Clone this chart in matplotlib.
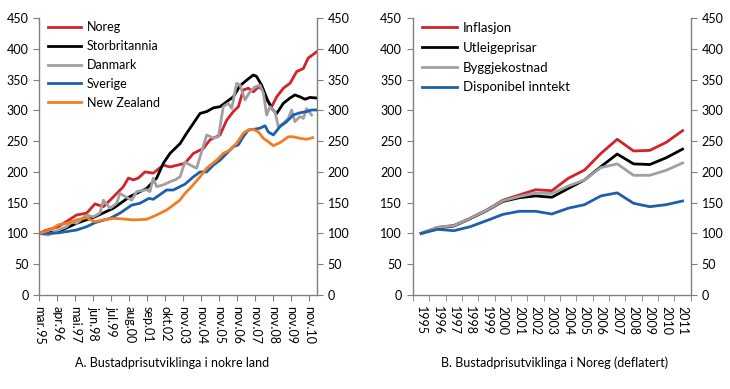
import matplotlib.pyplot as plt
from matplotlib.ticker import MultipleLocator, FixedLocator

plt.rcParams['font.family'] = ['Lato', 'DejaVu Sans']

# --- Figur A: bustadprisar i nokre land (x i tick-einingar) ---
land_ticks = ['mar.95', 'apr.96', 'mai.97', 'jun.98', 'jul.99', 'aug.00', 'sep.01',
              'okt.02', 'nov.03', 'nov.04', 'nov.05', 'nov.06', 'nov.07', 'nov.08',
              'nov.09', 'nov.10']

noreg_x = [0, 0.31, 1.05, 2.06, 2.62, 3.08, 3.55, 3.92, 4.29, 4.66, 4.94, 5.21, 5.49,
           5.86, 6.32, 6.88, 7.25, 7.81, 8.08, 8.55, 9.10, 9.47, 10.03, 10.40, 10.77,
           11.05, 11.32, 11.60, 11.88, 12.16, 12.44, 12.62, 12.90, 13.18, 13.55, 13.92,
           14.29, 14.66, 14.93, 15.40]
noreg = [100, 104.5, 111, 130, 133, 148, 143.5, 154, 165, 176, 190, 187, 190,
         200, 198, 211, 208, 212, 214, 230, 238, 252, 260, 284, 298,
         306, 333, 336, 330, 338, 333, 317, 306, 322, 336, 344,
         363, 368, 385, 395]

storbr_x = [0, 1.05, 2.06, 3.08, 4.11, 5.03, 5.95, 6.51, 6.88, 7.25, 7.81, 8.18, 8.55,
            8.92, 9.29, 9.66, 10.03, 10.40, 10.77, 11.14, 11.51, 11.88, 12.06, 12.34,
            12.62, 12.90, 13.18, 13.55, 13.92, 14.19, 14.47, 14.75, 15.03, 15.40]
storbr = [100, 103, 116.5, 127, 141, 160, 173, 190, 214, 230, 246, 263, 279,
          295, 298, 304, 306, 314, 322, 340, 349, 357.5, 355, 341,
          320, 303, 295, 311.5, 320, 325, 322, 318, 321, 320]

danmark_x = [0, 0.49, 1.05, 1.51, 1.79, 2.06, 2.62, 2.99, 3.36, 3.55, 3.92, 4.29, 4.47,
             5.12, 5.40, 5.95, 6.14, 6.32, 6.51, 6.88, 7.25, 7.53, 7.81, 8.08, 8.45,
             8.73, 9.29, 9.66, 9.94, 10.21, 10.49, 10.68, 10.95, 11.14, 11.42, 11.69,
             11.97, 12.25, 12.44, 12.62, 12.81, 13.08, 13.27, 13.55, 13.82, 14.01,
             14.19, 14.47, 14.66, 14.84, 15.12]
danmark = [100, 97.5, 105.6, 111, 119, 116.5, 130, 127, 133, 154, 141, 149, 165,
           154, 168, 171, 168, 190, 176, 179, 184, 187, 192, 216, 210,
           206, 260, 255, 257, 306, 311.5, 303, 344, 341, 317, 330,
           338, 341, 328, 292.5, 306, 298, 273.5, 279, 287, 300.6,
           281.6, 290, 287, 303, 292.5]

sverige_x = [0, 0.58, 1.05, 2.06, 2.62, 3.08, 3.92, 4.47, 5.12, 5.58, 6.08, 6.32, 7.06,
             7.43, 8.08, 8.55, 8.92, 9.29, 9.66, 10.03, 10.40, 10.77, 11.05, 11.32,
             11.60, 11.88, 12.25, 12.53, 12.71, 12.99, 13.36, 13.73, 14.10, 14.47,
             14.84, 15.12, 15.40]
sverige = [100, 100, 101, 105.6, 111, 117.5, 124.6, 133, 146, 149, 157, 155.5, 170.6,
           170.6, 180, 192, 200, 200, 211, 219, 230, 241, 244, 257,
           268, 269, 271, 275, 265, 260, 273.5, 281.6, 292.5, 296,
           298, 300.6, 300.6]

nz_x = [0, 0.58, 1.05, 1.51, 2.06, 2.62, 3.08, 3.55, 4.11, 4.66, 5.21, 5.95, 6.51,
        7.06, 7.43, 7.81, 8.08, 8.45, 8.92, 9.29, 9.84, 10.21, 10.58, 10.95, 11.32,
        11.60, 11.88, 12.16, 12.44, 12.71, 12.99, 13.36, 13.82, 14.10, 14.47, 14.84,
        15.18]
nz = [100, 105.6, 114, 116.5, 122, 125.6, 119, 122, 124.6, 123.5, 122, 123, 130,
      138, 146, 154.4, 165, 176, 192, 206, 219, 230, 235.6, 246.5, 262.7,
      268, 269, 265, 254.6, 249, 242.6, 247.5, 257, 257, 254.6, 253,
      255.6]

# --- Figur B: Noreg, deflatert ---
aar = ['1995', '1996', '1997', '1998', '1999', '2000', '2001', '2002', '2003',
       '2004', '2005', '2006', '2007', '2008', '2009', '2010', '2011']
inflasjon = [100, 110, 113, 124.6, 138, 154, 162.5, 171, 169.5, 189.6, 203, 230,
             253, 234, 235, 248, 267]
utleige = [100, 109, 112, 124, 137, 152, 158, 161, 158.8, 173, 187, 208.5,
           229, 213, 212, 223, 237]
byggje = [100, 110, 112.5, 124.5, 137.5, 153, 160, 165.6, 165, 177, 187, 207,
          213, 194.5, 194.5, 202.6, 214.5]
disponibel = [100, 106.7, 104.5, 111, 120.8, 131, 136, 136, 131.6, 141, 146.8, 161,
              166, 149, 143.5, 146.8, 152.7]

RED = '#d2232a'
BLUE = '#1c5fac'
GREY = '#a0a0a0'
ORANGE = '#f47d20'
AXC = '#808080'
LW = 2.0
FS = 9

fig = plt.figure(figsize=(7.3, 3.89), dpi=100)
ax1 = fig.add_axes([0.0541, 0.2416, 0.3797, 0.7121])
ax2 = fig.add_axes([0.5658, 0.2416, 0.3804, 0.7121])


def style_y(ax):
    ax.set_ylim(0, 450)
    ax.yaxis.set_major_locator(MultipleLocator(50))
    ax.tick_params(axis='y', which='major', direction='out', length=4, color=AXC,
                   labelsize=FS, left=True, right=True, labelleft=True,
                   labelright=True, pad=4)
    for s in ['left', 'right', 'bottom']:
        ax.spines[s].set_color(AXC)
        ax.spines[s].set_linewidth(1.0)
    ax.spines['top'].set_visible(False)


# --- A ---
ax1.plot(noreg_x, noreg, color=RED, lw=LW, label='Noreg')
ax1.plot(storbr_x, storbr, color='black', lw=LW, label='Storbritannia')
ax1.plot(danmark_x, danmark, color=GREY, lw=LW, label='Danmark')
ax1.plot(sverige_x, sverige, color=BLUE, lw=LW, label='Sverige')
ax1.plot(nz_x, nz, color=ORANGE, lw=LW, label='New Zealand')
ax1.set_xlim(0, 15.4)
ax1.set_xticks(range(len(land_ticks)))
ax1.set_xticklabels(land_ticks, rotation=270, fontsize=FS)
ax1.tick_params(axis='x', direction='out', length=4, color=AXC, pad=4)
style_y(ax1)
ax1.legend(loc='upper left', bbox_to_anchor=(0.0, 1.02), frameon=False, fontsize=9,
           handlelength=2.6, handletextpad=0.5, labelspacing=0.55, borderaxespad=0.3)
ax1.text(0.48, -0.245, 'A. Bustadprisutviklinga i nokre land', transform=ax1.transAxes,
         ha='center', va='center', fontsize=FS)

# --- B ---
xb = range(len(aar))
ax2.plot(xb, inflasjon, color=RED, lw=LW, label='Inflasjon')
ax2.plot(xb, utleige, color='black', lw=LW, label='Utleigeprisar')
ax2.plot(xb, byggje, color=GREY, lw=LW, label='Byggjekostnad')
ax2.plot(xb, disponibel, color=BLUE, lw=LW, label='Disponibel inntekt')
ax2.set_xlim(-0.5, len(aar) - 0.5)
ax2.set_xticks(list(xb))
ax2.set_xticklabels(aar, rotation=270, fontsize=FS)
ax2.xaxis.set_minor_locator(FixedLocator([i - 0.5 for i in range(len(aar) + 1)]))
ax2.tick_params(axis='x', which='major', length=0, pad=8)
ax2.tick_params(axis='x', which='minor', direction='out', length=4, color=AXC)
style_y(ax2)
ax2.legend(loc='upper left', bbox_to_anchor=(0.0, 1.02), frameon=False, fontsize=9.5,
           handlelength=2.6, handletextpad=0.5, labelspacing=0.6, borderaxespad=0.3)
ax2.text(0.51, -0.245, 'B. Bustadprisutviklinga i Noreg (deflatert)', transform=ax2.transAxes,
         ha='center', va='center', fontsize=FS)

fig.savefig('out.png', dpi=100)
